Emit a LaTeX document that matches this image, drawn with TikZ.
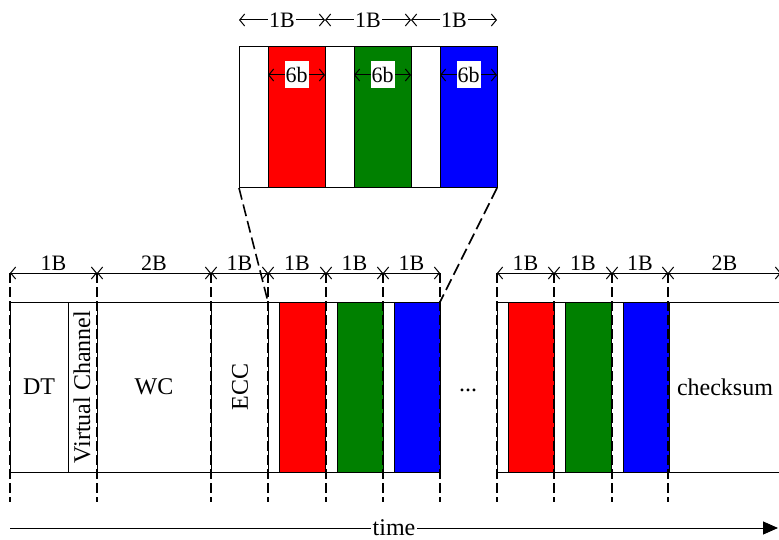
\documentclass[tikz,border=0pt]{standalone}
\usepackage{fontspec}
\setmainfont{Liberation Serif}
\usetikzlibrary{arrows.meta}
\definecolor{pxred}{RGB}{255,0,0}
\definecolor{pxgreen}{RGB}{0,128,0}
\definecolor{pxblue}{RGB}{0,0,255}
\begin{document}
\begin{tikzpicture}[x=1pt,y=-1pt,line width=1pt,
            font=\fontsize{24}{28}\selectfont,
            dimline/.style={{Straight Barb[length=5pt,width=12pt]}-{Straight Barb[length=5pt,width=12pt]}},
            dimlabel/.style={font=\fontsize{22}{26}\selectfont,inner sep=2pt},
            bitlabel/.style={dimlabel,fill=white,inner xsep=1pt,minimum height=27pt},
            tick/.style={dash pattern=on 10pt off 4pt,line width=1.6pt},
            zoomline/.style={dash pattern=on 12pt off 5pt,line width=1.6pt},
            timeline/.style={-{Triangle[length=15pt,width=13pt]}}]
            \useasboundingbox (0,0) rectangle (779,540);
            \coordinate(t1) at (239,20);
            \coordinate(t2) at (325,20);
            \coordinate(t3) at (411,20);
            \coordinate(t4) at (497,20);
            \draw (239,47) rectangle (497,188);
            \foreach \c/\x in {pxred/239,pxgreen/325,pxblue/411}
                \filldraw[fill=\c] (\x+29,47) rectangle (\x+86,188);
            \path[dimline] (t1) edge node[dimlabel,fill=white,inner xsep=1pt] {1B} (t2)
                (t2) edge node[dimlabel,fill=white,inner xsep=1pt] {1B} (t3)
                (t3) edge node[dimlabel,fill=white,inner xsep=1pt] {1B} (t4);
            \coordinate(s1) at (268,75);
            \coordinate(s2) at (325,75);
            \coordinate(s3) at (354,75);
            \coordinate(s4) at (411,75);
            \coordinate(s5) at (440,75);
            \coordinate(s6) at (497,75);
            \path[dimline] (s1) edge node[bitlabel] {6b} (s2)
                (s3) edge node[bitlabel] {6b} (s4)
                (s5) edge node[bitlabel] {6b} (s6);
            \coordinate(b1) at (10,273);
            \coordinate(b2) at (97,273);
            \coordinate(b3) at (211,273);
            \coordinate(b4) at (268,273);
            \coordinate(b5) at (326,273);
            \coordinate(b6) at (383,273);
            \coordinate(b7) at (440,273);
            \coordinate(b8) at (497,273);
            \coordinate(b9) at (554,273);
            \coordinate(b10) at (612,273);
            \coordinate(b11) at (668,273);
            \coordinate(b12) at (781,273);
            \draw (10,302) rectangle (440,472);
            \draw (781,302) -- (497,302) -- (497,472) -- (781,472);
            \foreach \x in {68,97,211,268}
                \draw (\x,302) -- (\x,472);
            \foreach \c/\x in {pxred/268,pxgreen/326,pxblue/383,pxred/497,pxgreen/554,pxblue/612}
                \filldraw[fill=\c] (\x+11,302) rectangle (\x+57,472);
            \path[dimline] (b1) edge node[dimlabel,above] {1B} (b2)
                (b2) edge node[dimlabel,above] {2B} (b3)
                (b3) edge node[dimlabel,above] {1B} (b4)
                (b4) edge node[dimlabel,above] {1B} (b5)
                (b5) edge node[dimlabel,above] {1B} (b6)
                (b6) edge node[dimlabel,above] {1B} (b7)
                (b8) edge node[dimlabel,above] {1B} (b9)
                (b9) edge node[dimlabel,above] {1B} (b10)
                (b10) edge node[dimlabel,above] {1B} (b11)
                (b11) edge node[dimlabel,above] {2B} (b12);
            \foreach \n in {1,...,11}
                \draw[tick] (b\n) -- ++(0,229);
            \coordinate(z1) at (239,188);
            \coordinate(z2) at (497,188);
            \coordinate(z3) at (268,302);
            \coordinate(z4) at (440,302);
            \path[zoomline] (z1) edge (z3) (z2) edge (z4);
            \node(1) at (39,387) {DT};
            \node(2) at (82,387) [rotate=90] {Virtual Channel};
            \node(3) at (154,387) {WC};
            \node(4) at (240,387) [rotate=90] {ECC};
            \node(5) at (468,390) {...};
            \node(6) at (725,387) {checksum};
            \coordinate(a1) at (10,528);
            \coordinate(a2) at (778,528);
            \path[timeline] (a1) edge node[fill=white,inner sep=2pt] {time} (a2);
\end{tikzpicture}
\end{document}
